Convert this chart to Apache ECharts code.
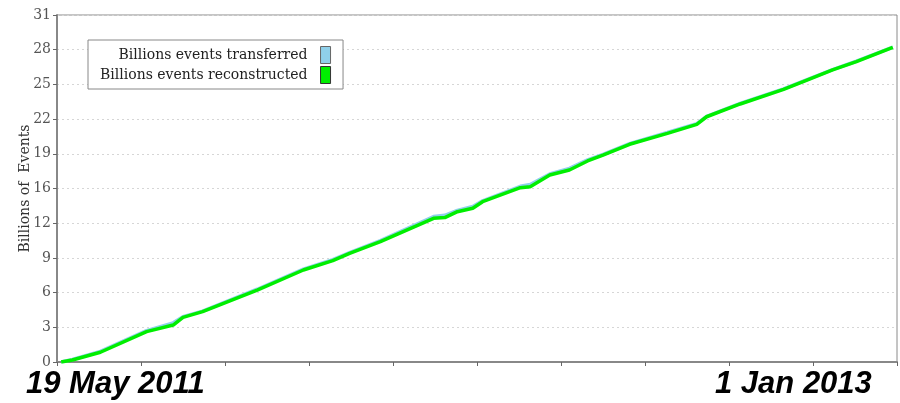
<!DOCTYPE html>
<html>
<head>
<meta charset="utf-8">
<script src="https://cdn.jsdelivr.net/npm/echarts@6/dist/echarts.min.js"></script>
<style>html,body{margin:0;padding:0;background:#fff}#c{width:900px;height:403px}</style>
</head>
<body>
<div id="c"></div>
<script>
// x = days since 19 May 2011
const dayOffsets = [3, 11, 31, 64, 83, 90, 104, 143, 176, 197, 209, 231, 269, 277, 286, 297, 304, 331, 338, 352, 366, 379, 390, 409, 436, 457, 464, 488, 519, 533, 554, 571, 597];
const reconstructed = [0, 0.18, 0.87, 2.71, 3.3, 3.99, 4.5, 6.43, 8.22, 9.05, 9.71, 10.75, 12.84, 12.9, 13.43, 13.73, 14.32, 15.57, 15.66, 16.7, 17.15, 17.96, 18.49, 19.45, 20.43, 21.23, 21.91, 23.05, 24.36, 25.04, 26.09, 26.83, 28.1];
const transferred   = [0, 0.22, 0.95, 2.8, 3.5, 4.05, 4.55, 6.5, 8.3, 9.15, 9.78, 10.85, 13.0, 13.1, 13.55, 13.9, 14.4, 15.7, 15.85, 16.8, 17.3, 18.05, 18.55, 19.5, 20.5, 21.3, 21.95, 23.1, 24.4, 25.1, 26.12, 26.87, 28.12];
const yTicks = [0, 3, 6, 9, 12, 16, 19, 22, 25, 28, 31];
const seriesNames = ['Billions events transferred', 'Billions events reconstructed'];
const startLabel = '19 May 2011';
const endLabel = '1 Jan 2013';

const chart = echarts.init(document.getElementById('c'), null, {renderer: 'canvas'});
const pair = (xs, ys) => xs.map((x, i) => [x, ys[i]]);
chart.setOption({
  animation: false,
  grid: {left: 57, right: 3, top: 15, bottom: 41, show: true, borderColor: '#8a8a8a', borderWidth: 1},
  legend: {
    orient: 'vertical', align: 'right', left: 88, top: 40,
    padding: [6, 12, 5, 12], itemGap: 2,
    itemWidth: 10, itemHeight: 17,
    backgroundColor: '#fff', borderColor: '#888', borderWidth: 1,
    textStyle: {fontFamily: 'DejaVu Serif', fontSize: 14, color: '#222', padding: [0, 8, 0, 0]},
    data: [
      {name: seriesNames[0], icon: 'rect', itemStyle: {color: '#8fd0ea', borderColor: '#666', borderWidth: 1}},
      {name: seriesNames[1], icon: 'rect', itemStyle: {color: '#00ee00', borderColor: '#333', borderWidth: 1}}
    ]
  },
  xAxis: {
    type: 'value', min: 0, max: 600, interval: 60,
    axisLine: {lineStyle: {color: '#888', width: 2}},
    axisTick: {show: true, inside: false, length: 4, lineStyle: {color: '#666'}},
    axisLabel: {show: false},
    splitLine: {show: false}
  },
  yAxis: {
    type: 'value', min: 0, max: 31, interval: 3.1,
    name: 'Billions of  Events', nameLocation: 'middle', nameGap: 25, nameMoveOverlap: false,
    nameTextStyle: {fontFamily: 'DejaVu Serif', fontSize: 14, color: '#333'},
    axisLine: {show: true, lineStyle: {color: '#888', width: 2}},
    axisTick: {show: true, length: 4, lineStyle: {color: '#666'}},
    axisLabel: {
      fontFamily: 'DejaVu Serif', fontSize: 14, color: '#555', margin: 6,
      formatter: (v) => { const i = Math.round(v / 3.1); return yTicks[i] !== undefined ? String(yTicks[i]) : ''; }
    },
    splitLine: {show: true, lineStyle: {color: '#d6d6d6', type: [2, 3], width: 1}}
  },
  series: [
    {name: seriesNames[0], type: 'line', data: pair(dayOffsets, transferred), showSymbol: false,
      lineStyle: {color: '#8fd0ea', width: 3.5}, itemStyle: {color: '#8fd0ea'}},
    {name: seriesNames[1], type: 'line', data: pair(dayOffsets, reconstructed), showSymbol: false,
      lineStyle: {color: '#00ee00', width: 3.5}, itemStyle: {color: '#00ee00'}}
  ],
  graphic: [
    {type: 'text', left: 26, top: 369, style: {text: startLabel, font: 'italic bold 31px "Liberation Sans", Arial, sans-serif', fill: '#000'}},
    {type: 'text', left: 715, top: 369, style: {text: endLabel, font: 'italic bold 31px "Liberation Sans", Arial, sans-serif', fill: '#000'}}
  ]
});
</script>
</body>
</html>
